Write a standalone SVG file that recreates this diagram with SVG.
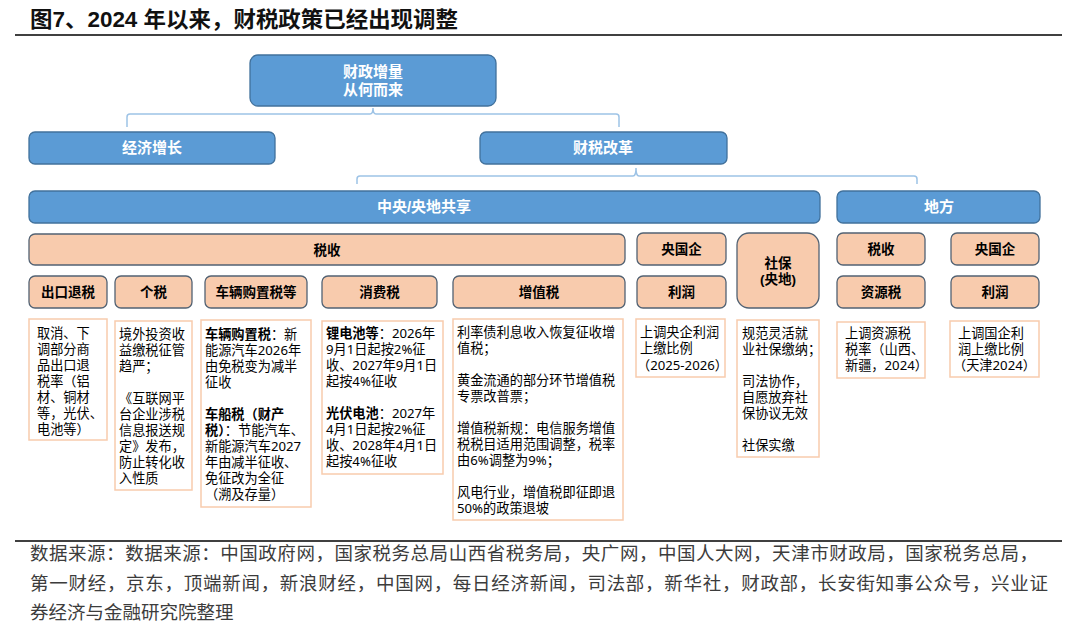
<svg xmlns="http://www.w3.org/2000/svg" width="1080" height="640" viewBox="0 0 1080 640">
<style>
text { font-family: "Liberation Sans", "Noto Sans CJK SC", sans-serif; }
.blue { fill: #5B9BD5; stroke: #41719C; stroke-width: 1.3; }
.peach { fill: #F8CBAD; stroke: #526273; stroke-width: 1.3; }
.tbox { fill: #FFFFFF; stroke: #F8CBAD; stroke-width: 1.5; }
.wt { fill: #FFFFFF; font-size: 15px; font-weight: bold; text-anchor: middle; }
.bt { fill: #000000; font-size: 13.5px; font-weight: bold; text-anchor: middle; }
.body { fill: #000000; font-size: 13.2px; font-family: "Noto Sans", "Noto Sans CJK SC", sans-serif; }
.b { font-weight: bold; }
.conn { fill: none; stroke: #9DC3E6; stroke-width: 1.5; }
.foot { fill: #3C3C3C; font-size: 18.5px; }
</style>

<g id="title">
  <text x="30" y="27" textLength="428" lengthAdjust="spacingAndGlyphs" style="font-size:22px;font-weight:bold;fill:#111">图7、2024 年以来，财税政策已经出现调整</text>
  <line x1="15" y1="35" x2="1062" y2="35" stroke="#404040" stroke-width="2"/>
</g>

<g id="connectors">
  <path class="conn" d="M127,127 V117 Q127,114 130,114 H370 Q373,114 373,108 Q373,114 376,114 H616 Q619,114 619,117 V127"/>
  <path class="conn" d="M357,184 V179 Q357,176 360,176 H633 Q636,176 636,168 Q636,176 639,176 H914 Q917,176 917,179 V184"/>
</g>

<g id="n-top">
  <rect class="blue" x="250" y="55" width="246" height="51" rx="8"/>
  <text class="wt" x="373" y="77">财政增量</text>
  <text class="wt" x="373" y="95">从何而来</text>
</g>
<g id="n-econ">
  <rect class="blue" x="29" y="132" width="246" height="32" rx="6"/>
  <text class="wt" x="152" y="153">经济增长</text>
</g>
<g id="n-reform">
  <rect class="blue" x="480" y="132" width="247" height="32" rx="6"/>
  <text class="wt" x="603" y="153">财税改革</text>
</g>
<g id="n-central">
  <rect class="blue" x="29" y="191" width="791" height="32" rx="6"/>
  <text class="wt" x="424" y="212">中央/央地共享</text>
</g>
<g id="n-local">
  <rect class="blue" x="837" y="191" width="203" height="32" rx="6"/>
  <text class="wt" x="939" y="212">地方</text>
</g>

<g id="p-tax">
  <rect class="peach" x="29" y="234" width="596" height="31" rx="6"/>
  <text class="bt" x="327" y="255">税收</text>
</g>
<g id="p-cgq">
  <rect class="peach" x="637" y="233" width="89" height="32" rx="6"/>
  <text class="bt" x="681.5" y="254">央国企</text>
</g>
<g id="p-sb">
  <rect class="peach" x="737" y="233" width="82" height="75" rx="12"/>
  <text class="bt" x="778" y="268">社保</text>
  <text class="bt" x="778" y="284">(央地)</text>
</g>
<g id="p-ltax">
  <rect class="peach" x="837" y="233" width="88" height="32" rx="6"/>
  <text class="bt" x="881" y="254">税收</text>
</g>
<g id="p-lgq">
  <rect class="peach" x="951" y="233" width="88" height="32" rx="6"/>
  <text class="bt" x="995" y="254">央国企</text>
</g>

<g id="p-export">
  <rect class="peach" x="29" y="276" width="78" height="32" rx="6"/>
  <text class="bt" x="68" y="297">出口退税</text>
</g>
<g id="p-pit">
  <rect class="peach" x="115" y="276" width="77" height="32" rx="6"/>
  <text class="bt" x="153.5" y="297">个税</text>
</g>
<g id="p-vehicle">
  <rect class="peach" x="205" y="276" width="102" height="32" rx="6"/>
  <text class="bt" x="256" y="297">车辆购置税等</text>
</g>
<g id="p-consume">
  <rect class="peach" x="322" y="276" width="115" height="32" rx="6"/>
  <text class="bt" x="379.5" y="297">消费税</text>
</g>
<g id="p-vat">
  <rect class="peach" x="453" y="276" width="172" height="32" rx="6"/>
  <text class="bt" x="539" y="297">增值税</text>
</g>
<g id="p-profit1">
  <rect class="peach" x="637" y="276" width="89" height="32" rx="6"/>
  <text class="bt" x="681.5" y="297">利润</text>
</g>
<g id="p-resource">
  <rect class="peach" x="837" y="276" width="88" height="32" rx="6"/>
  <text class="bt" x="881" y="297">资源税</text>
</g>
<g id="p-profit2">
  <rect class="peach" x="951" y="276" width="88" height="32" rx="6"/>
  <text class="bt" x="995" y="297">利润</text>
</g>

<g id="t-export">
  <rect class="tbox" x="29" y="319" width="78" height="121"/>
  <text class="body">
    <tspan x="37" y="338">取消、下</tspan>
    <tspan x="37" y="354">调部分商</tspan>
    <tspan x="37" y="370">品出口退</tspan>
    <tspan x="37" y="386">税率（铝</tspan>
    <tspan x="37" y="402">材、铜材</tspan>
    <tspan x="37" y="418">等，光伏、</tspan>
    <tspan x="37" y="434">电池等）</tspan>
  </text>
</g>
<g id="t-pit">
  <rect class="tbox" x="115" y="321" width="77" height="169"/>
  <text class="body">
    <tspan x="119" y="339">境外投资收</tspan>
    <tspan x="119" y="355">益缴税征管</tspan>
    <tspan x="119" y="371">趋严；</tspan>
    <tspan x="119" y="403">《互联网平</tspan>
    <tspan x="119" y="419">台企业涉税</tspan>
    <tspan x="119" y="435">信息报送规</tspan>
    <tspan x="119" y="451">定》发布，</tspan>
    <tspan x="119" y="467">防止转化收</tspan>
    <tspan x="119" y="483">入性质</tspan>
  </text>
</g>
<g id="t-vehicle">
  <rect class="tbox" x="201" y="320" width="110" height="187"/>
  <text class="body">
    <tspan x="205" y="339"><tspan class="b">车辆购置税</tspan>：新</tspan>
    <tspan x="205" y="355">能源汽车2026年</tspan>
    <tspan x="205" y="371">由免税变为减半</tspan>
    <tspan x="205" y="387">征收</tspan>
    <tspan x="205" y="419" class="b">车船税（财产</tspan>
    <tspan x="205" y="435"><tspan class="b">税）</tspan>：节能汽车、</tspan>
    <tspan x="205" y="451">新能源汽车2027</tspan>
    <tspan x="205" y="467">年由减半征收、</tspan>
    <tspan x="205" y="483">免征改为全征</tspan>
    <tspan x="205" y="499">（溯及存量）</tspan>
  </text>
</g>
<g id="t-consume">
  <rect class="tbox" x="322" y="321" width="121" height="153"/>
  <text class="body">
    <tspan x="326" y="338"><tspan class="b">锂电池等</tspan>：2026年</tspan>
    <tspan x="326" y="354">9月1日起按2%征</tspan>
    <tspan x="326" y="370">收、2027年9月1日</tspan>
    <tspan x="326" y="386">起按4%征收</tspan>
    <tspan x="326" y="418"><tspan class="b">光伏电池</tspan>：2027年</tspan>
    <tspan x="326" y="434">4月1日起按2%征</tspan>
    <tspan x="326" y="450">收、2028年4月1日</tspan>
    <tspan x="326" y="466">起按4%征收</tspan>
  </text>
</g>
<g id="t-vat">
  <rect class="tbox" x="453" y="319" width="170" height="201"/>
  <text class="body">
    <tspan x="457" y="337">利率债利息收入恢复征收增</tspan>
    <tspan x="457" y="353">值税；</tspan>
    <tspan x="457" y="385">黄金流通的部分环节增值税</tspan>
    <tspan x="457" y="401">专票改普票；</tspan>
    <tspan x="457" y="433">增值税新规：电信服务增值</tspan>
    <tspan x="457" y="449">税税目适用范围调整，税率</tspan>
    <tspan x="457" y="465">由6%调整为9%；</tspan>
    <tspan x="457" y="497">风电行业，增值税即征即退</tspan>
    <tspan x="457" y="513">50%的政策退坡</tspan>
  </text>
</g>
<g id="t-profit1">
  <rect class="tbox" x="636" y="319" width="89" height="58"/>
  <text class="body">
    <tspan x="640" y="337">上调央企利润</tspan>
    <tspan x="640" y="353">上缴比例</tspan>
    <tspan x="637" y="370">（2025-2026）</tspan>
  </text>
</g>
<g id="t-sb">
  <rect class="tbox" x="737" y="320" width="82" height="137"/>
  <text class="body">
    <tspan x="742" y="338">规范灵活就</tspan>
    <tspan x="742" y="354">业社保缴纳；</tspan>
    <tspan x="742" y="386">司法协作，</tspan>
    <tspan x="742" y="402">自愿放弃社</tspan>
    <tspan x="742" y="418">保协议无效</tspan>
    <tspan x="742" y="450">社保实缴</tspan>
  </text>
</g>
<g id="t-resource">
  <rect class="tbox" x="837" y="322" width="88" height="56"/>
  <text class="body">
    <tspan x="845" y="338">上调资源税</tspan>
    <tspan x="845" y="354">税率（山西、</tspan>
    <tspan x="845" y="370">新疆，2024）</tspan>
  </text>
</g>
<g id="t-profit2">
  <rect class="tbox" x="950" y="321" width="89" height="56"/>
  <text class="body">
    <tspan x="958" y="338">上调国企利</tspan>
    <tspan x="958" y="354">润上缴比例</tspan>
    <tspan x="953" y="370">（天津2024）</tspan>
  </text>
</g>

<g id="footer">
  <line x1="15" y1="541" x2="1062" y2="541" stroke="#404040" stroke-width="2"/>
  <text class="foot" x="30" y="560" textLength="1008" lengthAdjust="spacing">数据来源：数据来源：中国政府网，国家税务总局山西省税务局，央广网，中国人大网，天津市财政局，国家税务总局，</text>
  <text class="foot" x="30" y="590" textLength="1018" lengthAdjust="spacing">第一财经，京东，顶端新闻，新浪财经，中国网，每日经济新闻，司法部，新华社，财政部，长安街知事公众号，兴业证</text>
  <text class="foot" x="30" y="619">券经济与金融研究院整理</text>
</g>
</svg>
